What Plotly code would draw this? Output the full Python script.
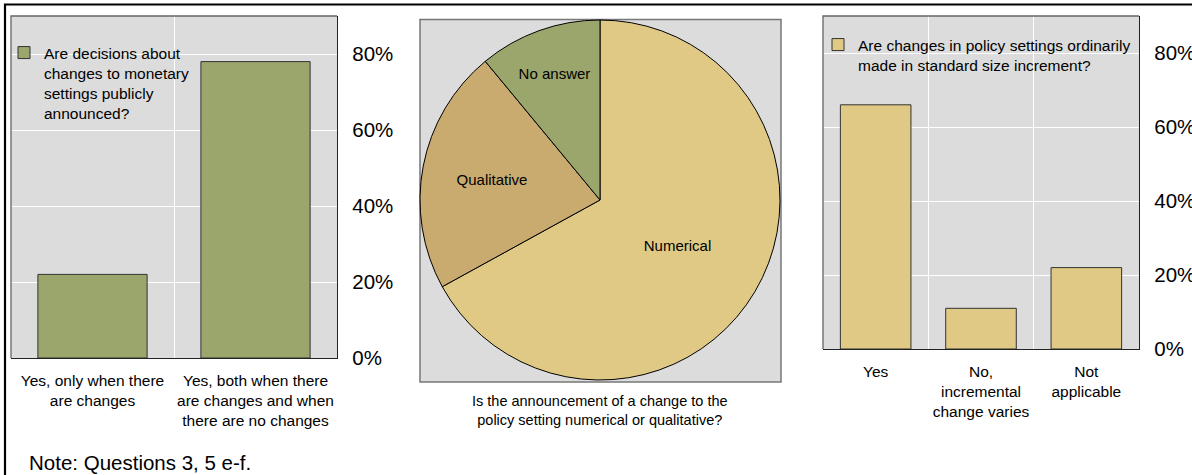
import plotly.graph_objects as go

# ---------------- data ----------------
left_categories = ["Yes, only when there<br>are changes",
                   "Yes, both when there<br>are changes and when<br>there are no changes"]
left_values = [22, 78]
left_legend = "Are decisions about<br>changes to monetary<br>settings publicly<br>announced?"

# listed clockwise from 12 o'clock
pie_labels = ["Numerical", "Qualitative", "No answer"]
pie_values = [67, 22, 11]
pie_caption = "Is the announcement of a change to the<br>policy setting numerical or qualitative?"

right_categories = ["Yes", "No,<br>incremental<br>change varies", "Not<br>applicable"]
right_values = [66, 11, 22]
right_legend = "Are changes in policy settings ordinarily<br>made in standard size increment?"

y_tick_values = [0, 20, 40, 60, 80]
y_tick_labels = ["0%", "20%", "40%", "60%", "80%"]

note_text = "Note: Questions 3, 5 e-f."

# ---------------- style ----------------
W, H = 1192, 475
FONT = "Arial, Liberation Sans, sans-serif"
GREEN = "#9BA66D"
TAN = "#DFC984"
BROWN = "#C9AB70"
BG = "#DCDCDC"


def px_x(v):
    return v / W


def px_y(v):
    return 1 - v / H


fig = go.Figure()

fig.add_trace(go.Bar(
    x=left_categories, y=left_values, name=left_legend,
    marker=dict(color=GREEN, line=dict(color="#333333", width=1)),
    width=0.67, xaxis="x", yaxis="y", legend="legend", showlegend=True,
    hoverinfo="skip"))

fig.add_trace(go.Pie(
    labels=pie_labels, values=pie_values, sort=False,
    direction="clockwise", rotation=0,
    marker=dict(colors=[TAN, BROWN, GREEN], line=dict(color="black", width=1)),
    textinfo="label", textposition="inside", insidetextorientation="horizontal",
    textfont=dict(size=15, color="black", family=FONT),
    domain=dict(x=[px_x(420), px_x(780)], y=[px_y(380), px_y(20)]),
    showlegend=False, hoverinfo="skip"))

fig.add_trace(go.Bar(
    x=right_categories, y=right_values, name=right_legend,
    marker=dict(color=TAN, line=dict(color="#333333", width=1)),
    width=0.67, xaxis="x2", yaxis="y2", legend="legend2", showlegend=True,
    hoverinfo="skip"))

xaxis_common = dict(type="category", tickson="boundaries", showgrid=True,
                    gridcolor="white", gridwidth=1, showline=True,
                    linecolor="#222222", linewidth=1.3, ticks="", tickangle=0,
                    ticklabelstandoff=8,
                    tickfont=dict(size=15.5, color="black", family=FONT),
                    automargin=False, fixedrange=True, zeroline=False)
yaxis_common = dict(side="right", range=[0, 90], tickvals=y_tick_values,
                    ticktext=y_tick_labels, showgrid=True, gridcolor="white",
                    gridwidth=1, showline=True, linecolor="#222222", linewidth=1.3,
                    ticks="", ticklabelstandoff=10,
                    tickfont=dict(size=20.5, color="black", family=FONT),
                    automargin=False, fixedrange=True, zeroline=False)

fig.update_layout(
    template="none",
    width=W, height=H, autosize=False,
    margin=dict(l=0, r=0, t=0, b=0, pad=0),
    paper_bgcolor="white", plot_bgcolor=BG,
    font=dict(family=FONT, color="black"),
    xaxis=dict(domain=[px_x(11), px_x(337)], anchor="y", **xaxis_common),
    yaxis=dict(domain=[px_y(358), px_y(16)], anchor="x", **yaxis_common),
    xaxis2=dict(domain=[px_x(823), px_x(1139)], anchor="y2", **xaxis_common),
    yaxis2=dict(domain=[px_y(349), px_y(16)], anchor="x2", **yaxis_common),
    legend=dict(x=px_x(4), xanchor="left", y=px_y(36), yanchor="top",
                bgcolor="rgba(0,0,0,0)", borderwidth=0, valign="top",
                font=dict(size=15.5, color="black", family=FONT)),
    legend2=dict(x=px_x(818), xanchor="left", y=px_y(28), yanchor="top",
                 bgcolor="rgba(0,0,0,0)", borderwidth=0, valign="top",
                 font=dict(size=15.5, color="black", family=FONT)),
    showlegend=True,
)

shapes = [
    # outer frame (top and left)
    dict(type="rect", xref="paper", yref="paper", x0=px_x(5), x1=px_x(1210),
         y0=px_y(490), y1=px_y(4.5), line=dict(color="black", width=2.2),
         fillcolor="rgba(0,0,0,0)", layer="above"),
    # pie panel box
    dict(type="rect", xref="paper", yref="paper", x0=px_x(420), x1=px_x(781),
         y0=px_y(382), y1=px_y(19.5), line=dict(color="#777777", width=1.5),
         fillcolor=BG, layer="below"),
    # legend backdrops hiding gridlines (below the bars)
    dict(type="rect", xref="paper", yref="paper", x0=px_x(13), x1=px_x(197),
         y0=px_y(132), y1=px_y(33), line=dict(width=0), fillcolor=BG,
         layer="between"),
    dict(type="rect", xref="paper", yref="paper", x0=px_x(835), x1=px_x(1133),
         y0=px_y(91), y1=px_y(17), line=dict(width=0), fillcolor=BG,
         layer="between"),
]
for xr, yr in (("x", "y"), ("x2", "y2")):
    shapes.append(dict(type="path", xref=f"{xr} domain", yref=f"{yr} domain",
                       path="M 0,0 L 0,1 L 1,1", line=dict(color="#666666", width=1.3),
                       layer="above"))
fig.update_layout(shapes=shapes)

fig.add_annotation(text=pie_caption, xref="paper", yref="paper",
                   x=px_x(600), y=px_y(410), xanchor="center", yanchor="middle",
                   showarrow=False, align="center",
                   font=dict(size=14.5, color="black", family=FONT))
fig.add_annotation(text=note_text, xref="paper", yref="paper",
                   x=px_x(27), y=px_y(462), xanchor="left", yanchor="middle",
                   showarrow=False, align="left",
                   font=dict(size=20.5, color="black", family=FONT))

fig.write_html("out.html", config={"displayModeBar": False},
               post_script="document.body.style.margin='0px';")
